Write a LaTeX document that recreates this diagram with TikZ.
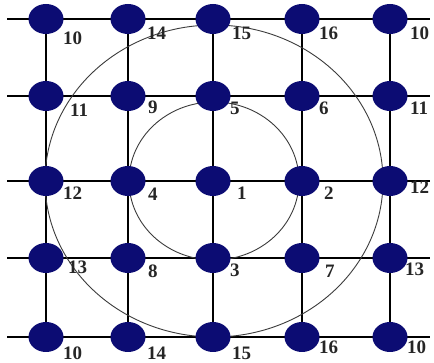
\documentclass[tikz,border=0pt]{standalone}
\usepackage{fontspec}
\setmainfont{Liberation Serif}
\usetikzlibrary{shapes.geometric}
\definecolor{dotblue}{RGB}{12,12,115}
\definecolor{ringgray}{RGB}{60,60,60}
\tikzset{
  dot/.style={ellipse, fill=dotblue, minimum width=35pt, minimum height=30pt, inner sep=0pt},
  gridline/.style={line width=1.8pt, black},
  ring/.style={line width=0.9pt, ringgray},
  lab/.style={anchor=west, inner sep=0pt, font=\fontsize{19}{19}\selectfont\bfseries, text=black!85}
}
\begin{document}
\begin{tikzpicture}[x=1pt, y=-1pt]
\useasboundingbox (0,0) rectangle (434,363);
\fill[white] (0,0) rectangle (434,363);
% grid coordinates
\foreach \r/\y in {1/19,2/96,3/181,4/258,5/337}{
  \coordinate (L\r) at (7,\y);
  \coordinate (R\r) at (430,\y);
  \foreach \c/\x in {1/46,2/128,3/213,4/302,5/390}{
    \coordinate (p\r\c) at (\x,\y);
  }
}
% lines
\foreach \r in {1,...,5}{ \draw[gridline] (L\r) -- (R\r); }
\foreach \c in {1,...,5}{ \draw[gridline] (p1\c) -- (p5\c); }
% rings
\draw[ring] (214,181) ellipse [x radius=85, y radius=79];
\draw[ring] (214,181) ellipse [x radius=169, y radius=156];
% dots
\foreach \r in {1,...,5}{
  \foreach \c in {1,...,5}{
    \node[dot] (n\r\c) at (p\r\c) {};
  }
}
% labels
\node[lab] (t11) at ([shift={(17,19)}]n11.center) {10};
\node[lab] (t12) at ([shift={(19,14)}]n12.center) {14};
\node[lab] (t13) at ([shift={(19,14)}]n13.center) {15};
\node[lab] (t14) at ([shift={(17,14)}]n14.center) {16};
\node[lab] (t15) at ([shift={(20,14)}]n15.center) {10};
\node[lab] (t21) at ([shift={(24,14)}]n21.center) {11};
\node[lab] (t22) at ([shift={(20,11)}]n22.center) {9};
\node[lab] (t23) at ([shift={(17,12)}]n23.center) {5};
\node[lab] (t24) at ([shift={(17,12)}]n24.center) {6};
\node[lab] (t25) at ([shift={(20,12)}]n25.center) {11};
\node[lab] (t31) at ([shift={(17,12)}]n31.center) {12};
\node[lab] (t32) at ([shift={(20,13)}]n32.center) {4};
\node[lab] (t33) at ([shift={(24,12)}]n33.center) {1};
\node[lab] (t34) at ([shift={(22,12)}]n34.center) {2};
\node[lab] (t35) at ([shift={(20,6)}]n35.center) {12};
\node[lab] (t41) at ([shift={(22,9)}]n41.center) {13};
\node[lab] (t42) at ([shift={(20,13)}]n42.center) {8};
\node[lab] (t43) at ([shift={(17,12)}]n43.center) {3};
\node[lab] (t44) at ([shift={(23,13)}]n44.center) {7};
\node[lab] (t45) at ([shift={(15,11)}]n45.center) {13};
\node[lab] (t51) at ([shift={(17,16)}]n51.center) {10};
\node[lab] (t52) at ([shift={(19,16)}]n52.center) {14};
\node[lab] (t53) at ([shift={(19,16)}]n53.center) {15};
\node[lab] (t54) at ([shift={(17,10)}]n54.center) {16};
\node[lab] (t55) at ([shift={(17,10)}]n55.center) {10};
\end{tikzpicture}
\end{document}
